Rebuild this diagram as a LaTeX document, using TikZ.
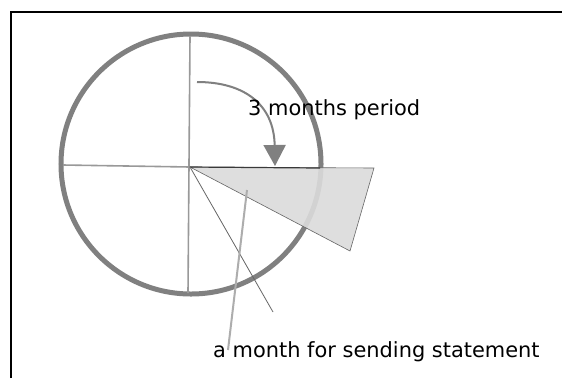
\documentclass[tikz,border=0pt]{standalone}
\usepackage{fontspec}
\setmainfont{DejaVu Sans}
\usetikzlibrary{arrows.meta}
\definecolor{ringgray}{gray}{0.5}
\definecolor{crossgray}{gray}{0.6}
\definecolor{wedgefill}{gray}{0.86}
\definecolor{wedgeedge}{gray}{0.4}
\definecolor{pointergray}{gray}{0.68}
\tikzset{
  frameline/.style={line width=2.2bp, black},
  ring/.style={ringgray, line width=5bp},
  crossline/.style={crossgray, line width=1.6bp},
  wedge/.style={fill=wedgefill, fill opacity=0.9, draw=wedgeedge, line width=0.6bp},
  thinline/.style={gray!80!black, line width=0.8bp},
  pointer/.style={pointergray, line width=2bp},
  turnarrow/.style={ringgray, line width=2bp, -{Triangle[length=21bp,width=22bp]}},
  lbl/.style={inner sep=0pt, anchor=base west, font=\fontsize{21}{24}\selectfont}
}
\begin{document}
\begin{tikzpicture}[x=1bp,y=-1bp]
\useasboundingbox (0,0) rectangle (562,378);
\fill[white] (0,0) rectangle (562,378);
\draw[frameline] (11,378) -- (11,12) -- (562,12);
\coordinate (O) at (190,167);
\coordinate (ringC) at (191,164);
\coordinate (vtop) at (190,36);
\coordinate (vbot) at (188,293);
\coordinate (hleft) at (63,165);
\coordinate (hright) at (320,168);
\coordinate (wA) at (374,168);
\coordinate (wB) at (350,251);
\coordinate (thinEnd) at (273,312);
\coordinate (pTop) at (247,190);
\coordinate (pBot) at (228,350);
\coordinate (aStart) at (197,82);
\coordinate (aEnd) at (275,166);
\draw[ring] (ringC) circle[radius=130bp];
\draw[crossline] (vtop) -- (vbot);
\draw[crossline] (hleft) -- (O);
\draw[wedge] (O) -- (wA) -- (wB) -- cycle;
\draw[gray!45!black, line width=1.2bp] (O) -- (hright);
\draw[thinline] (O) -- (thinEnd);
\draw[pointer] (pTop) -- (pBot);
\draw[turnarrow] (aStart) .. controls (245,82) and (274,105) .. (aEnd);
\node[lbl] (period) at (248,115) {3 months period};
\node[lbl] (statement) at (213,357) {a month for sending statement};
\end{tikzpicture}
\end{document}
